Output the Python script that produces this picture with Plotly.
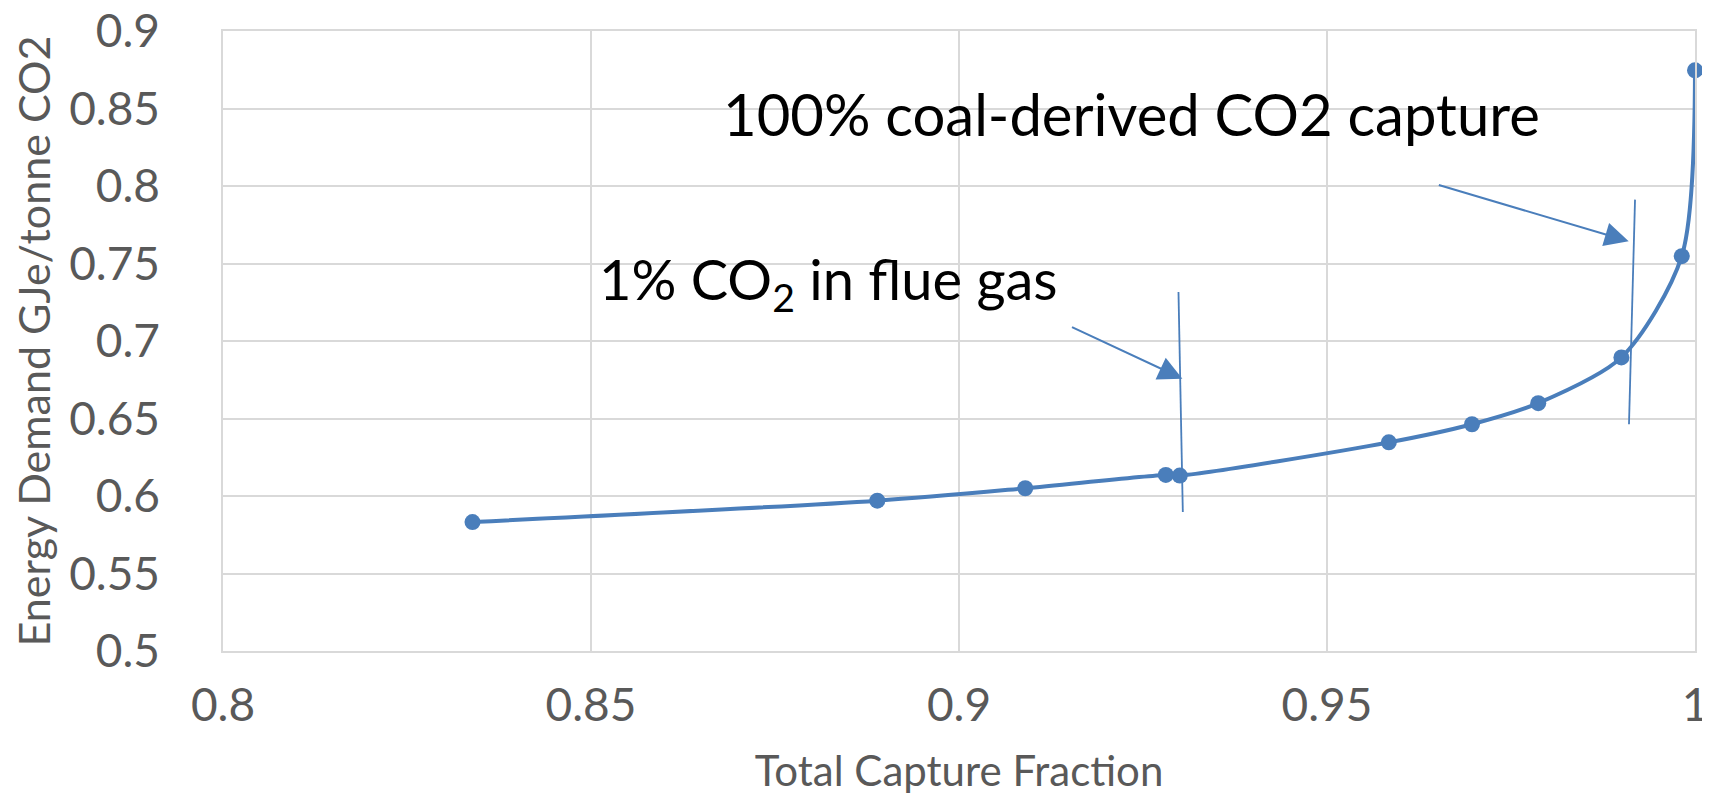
import plotly.graph_objects as go

# Total capture fraction vs energy demand
capture = [0.8339, 0.8889, 0.9090, 0.9281, 0.9300, 0.9584, 0.9697, 0.9787, 0.9900, 0.9982, 1.0]
energy = [0.5832, 0.5970, 0.6050, 0.6136, 0.6132, 0.6346, 0.6463, 0.6599, 0.6894, 0.7547, 0.8746]

x_ticks = [0.8, 0.85, 0.9, 0.95, 1.0]
x_labels = ["0.8", "0.85", "0.9", "0.95", "1"]
y_ticks = [0.5, 0.55, 0.6, 0.65, 0.7, 0.75, 0.8, 0.85, 0.9]
y_labels = ["0.5", "0.55", "0.6", "0.65", "0.7", "0.75", "0.8", "0.85", "0.9"]

BLUE = "#4a7ebb"
GRID = "#d9d9d9"
TICK = "#595959"
FONT = "Lato"

fig = go.Figure()

fig.add_trace(go.Scatter(
    x=capture, y=energy,
    mode="lines+markers",
    line=dict(color=BLUE, width=4, shape="spline", smoothing=0.8),
    marker=dict(color=BLUE, size=16),
    showlegend=False,
    cliponaxis=False,
))

# marker lines drawn by hand in the original
fig.add_shape(type="line", xref="x", yref="y",
              x0=0.92982, y0=0.7316, x1=0.93041, y1=0.5897,
              line=dict(color=BLUE, width=1.8))
fig.add_shape(type="line", xref="x", yref="y",
              x0=0.99185, y0=0.7912, x1=0.99103, y1=0.6463,
              line=dict(color=BLUE, width=1.8))

# arrows
fig.add_annotation(x=0.93035, y=0.6757, ax=0.91515, ay=0.7094,
                   xref="x", yref="y", axref="x", ayref="y",
                   text="", showarrow=True, arrowhead=2, arrowsize=2.4,
                   arrowwidth=2, arrowcolor=BLUE)
fig.add_annotation(x=0.99099, y=0.7643, ax=0.96499, ay=0.8009,
                   xref="x", yref="y", axref="x", ayref="y",
                   text="", showarrow=True, arrowhead=2, arrowsize=2.4,
                   arrowwidth=2, arrowcolor=BLUE)

# labels
fig.add_annotation(x=0.8508, y=0.712, xref="x", yref="y",
                   text="1% CO<sub>2</sub> in flue gas", showarrow=False,
                   xanchor="left", yanchor="bottom",
                   font=dict(family=FONT, size=56, color="black"))
fig.add_annotation(x=0.8677, y=0.823, xref="x", yref="y",
                   text="100% coal-derived CO2 capture", showarrow=False,
                   xanchor="left", yanchor="bottom",
                   font=dict(family=FONT, size=58, color="black"))

fig.update_layout(
    width=1710, height=794,
    margin=dict(l=215, r=23, t=23, b=151, autoexpand=False),
    paper_bgcolor="white", plot_bgcolor="white",
    font=dict(family=FONT, color=TICK),
    xaxis=dict(
        range=[0.8, 1.0], tickvals=x_ticks, ticktext=x_labels,
        showgrid=True, gridcolor=GRID, gridwidth=1.5,
        showline=True, linecolor=GRID, linewidth=1.5, mirror=True,
        zeroline=False, ticks="", ticklabelstandoff=13,
        ticklabeloverflow="allow", automargin=False,
        tickfont=dict(family=FONT, size=46, color=TICK),
        title=dict(text="Total Capture Fraction", standoff=27,
                   font=dict(family=FONT, size=42, color=TICK)),
    ),
    yaxis=dict(
        range=[0.5, 0.9], tickvals=y_ticks, ticktext=y_labels,
        showgrid=True, gridcolor=GRID, gridwidth=1.5,
        showline=True, linecolor=GRID, linewidth=1.5, mirror=True,
        zeroline=False, ticks="", ticklabelstandoff=52,
        ticklabeloverflow="allow", automargin=False,
        tickfont=dict(family=FONT, size=46, color=TICK),
        title=dict(text="Energy Demand GJe/tonne CO2", standoff=16,
                   font=dict(family=FONT, size=43, color=TICK)),
    ),
)

fig.write_html("out.html")
